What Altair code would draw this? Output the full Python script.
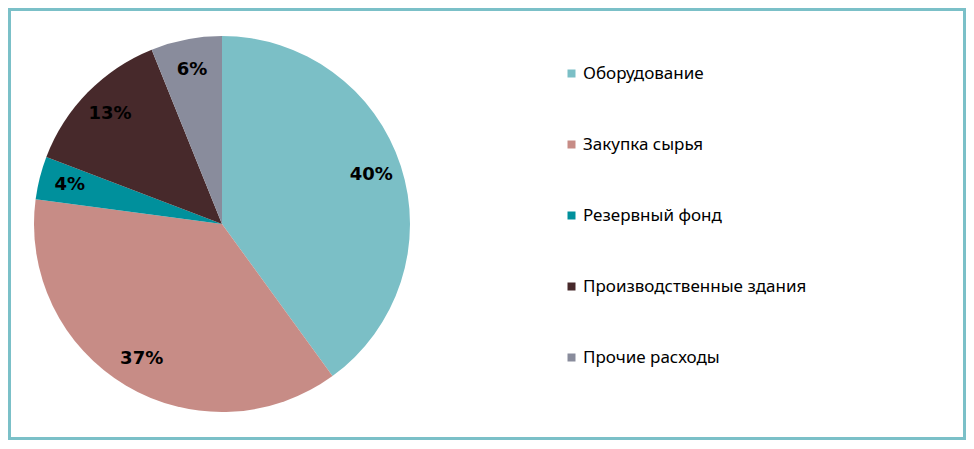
import altair as alt
import pandas as pd

categories = ["Оборудование", "Закупка сырья", "Резервный фонд",
              "Производственные здания", "Прочие расходы"]
shares = [40.0, 37.1, 3.7, 13.1, 6.1]
labels = ["40%", "37%", "4%", "13%", "6%"]
colors = ["#7BBFC6", "#C78C86", "#00909C", "#47292B", "#898C9C"]

df = pd.DataFrame({"cat": categories, "share": shares, "label": labels,
                   "idx": list(range(len(categories)))})

W, H = 958, 432

base = alt.Chart(df).encode(
    theta=alt.Theta("share:Q", stack=True),
    order=alt.Order("idx:Q"),
)

pie = base.mark_arc(radius=188).encode(
    x=alt.value(214),
    y=alt.value(216),
    color=alt.Color(
        "cat:N",
        sort=categories,
        scale=alt.Scale(domain=categories, range=colors),
        legend=alt.Legend(
            title=None, orient="none", legendX=555, legendY=57,
            symbolType="square", symbolSize=64, symbolStrokeWidth=0,
            labelFont="Noto Sans", labelFontSize=17, labelColor="#000000",
            labelLimit=0, rowPadding=53, labelOffset=3, padding=0,
        ),
    ),
)

text = base.mark_text(radius=157, font="DejaVu Sans", fontSize=18,
                      fontWeight="bold", color="#000000").encode(
    x=alt.value(214),
    y=alt.value(216),
    text="label:N",
)

border = alt.Chart(pd.DataFrame({"a": [0]})).mark_rect(
    fillOpacity=0, stroke="#7BC0C8", strokeWidth=3
).encode(
    x=alt.value(1.5), x2=alt.value(W - 1.5),
    y=alt.value(1.5), y2=alt.value(H - 1.5),
)

chart = alt.layer(border, pie, text).properties(
    width=W, height=H,
    autosize=alt.AutoSizeParams(type="fit", contains="padding"),
    padding=0,
).configure_view(stroke=None).configure(background="white")

chart.save("out.html", embed_options={"renderer": "svg", "actions": False})
